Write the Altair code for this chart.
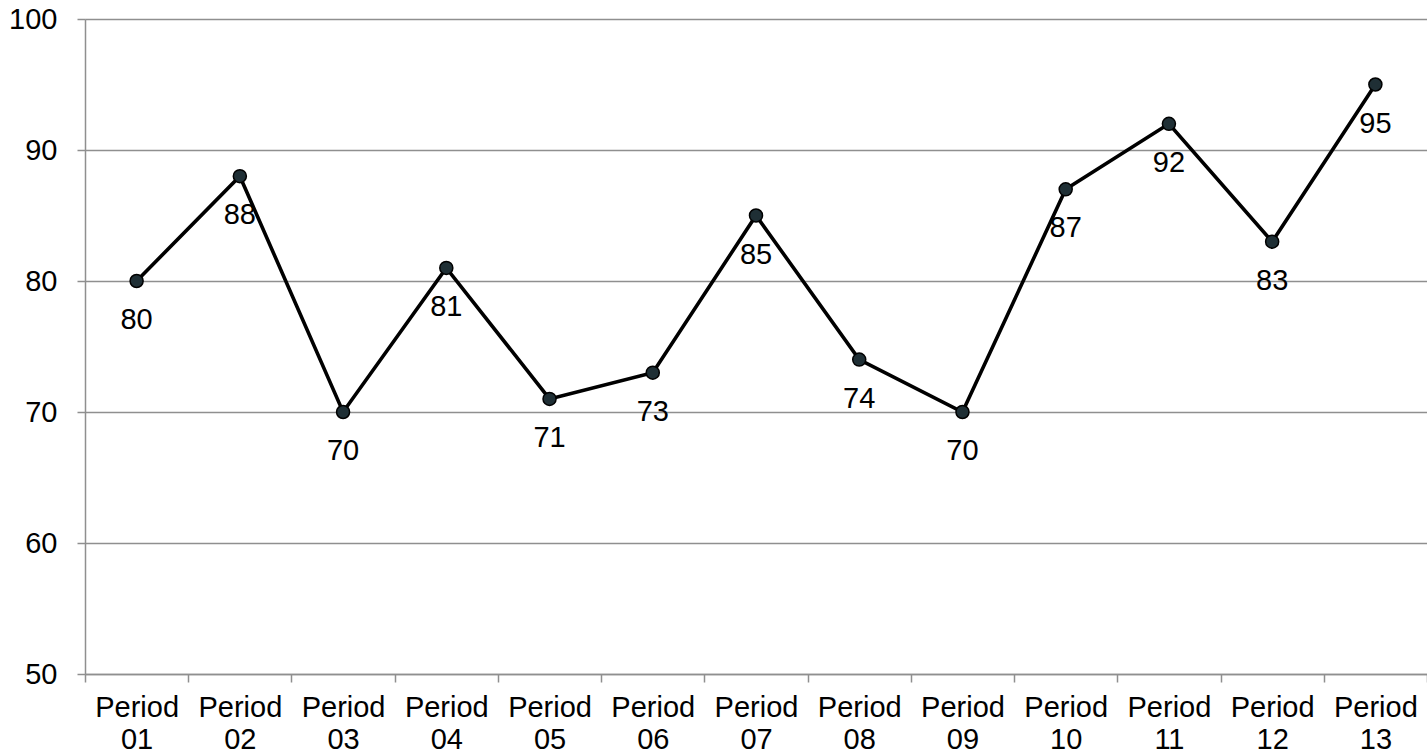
import altair as alt
import pandas as pd

# Score per reporting period
periods = [f"Period {i:02d}" for i in range(1, 14)]
scores = [80, 88, 70, 81, 71, 73, 85, 74, 70, 87, 92, 83, 95]

df = pd.DataFrame({"period": periods, "score": scores})

FONT = "Liberation Sans"
GRID = "#8f8f8f"
FS = 29

x = alt.X(
    "period:N",
    sort=periods,
    title=None,
    scale=alt.Scale(paddingInner=0, paddingOuter=0),
    axis=alt.Axis(
        labelAngle=0,
        labelExpr="split(datum.label, ' ')",
        labelFont=FONT,
        labelFontSize=FS,
        labelColor="#000000",
        labelLineHeight=32,
        labelPadding=11,
        labelBaseline="top",
        tickBand="extent",
        tickSize=8,
        tickColor=GRID,
        tickWidth=1.5,
        domainColor=GRID,
        domainWidth=1.5,
        grid=False,
    ),
)

y = alt.Y(
    "score:Q",
    title=None,
    scale=alt.Scale(domain=[50, 100], nice=False, zero=False),
    axis=alt.Axis(
        values=[50, 60, 70, 80, 90, 100],
        labelFont=FONT,
        labelFontSize=FS,
        labelColor="#000000",
        labelPadding=20,
        tickSize=8,
        tickColor=GRID,
        tickWidth=1.5,
        domainColor=GRID,
        domainWidth=1.5,
        gridColor=GRID,
        gridWidth=1.5,
    ),
)

base = alt.Chart(df).encode(x=x, y=y)

line = base.mark_line(color="#000000", strokeWidth=3.6)
points = base.mark_point(
    filled=False, shape="circle", size=170, fill="#1f2f35", fillOpacity=1,
    stroke="#000000", strokeWidth=1.5, opacity=1,
)
labels = base.mark_text(
    dy=39, baseline="middle", align="center",
    font=FONT, fontSize=FS, color="#000000",
).encode(text="score:Q")

chart = (
    alt.layer(line, points, labels)
    .properties(
        width=1342,
        height=655,
        autosize=alt.AutoSizeParams(type="none"),
        padding={"left": 85, "top": 19, "right": 0, "bottom": 82},
    )
    .configure_view(stroke=None)
    .configure(background="#ffffff")
)

chart.save("out.html", embed_options={"renderer": "svg", "actions": False})
